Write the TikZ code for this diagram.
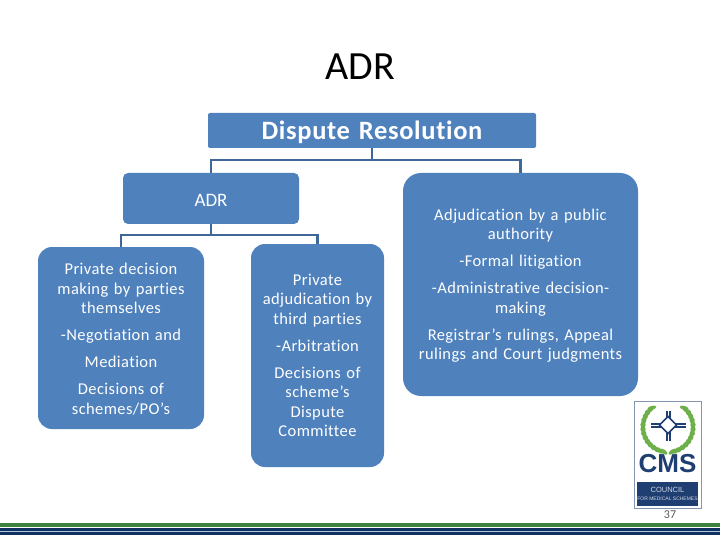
\documentclass[tikz,border=0pt]{standalone}
\usepackage{fontspec}
\setmainfont{Carlito}[Ligatures=NoCommon]
\newfontfamily\spaced{Carlito}[LetterSpace=2.5,Ligatures=NoCommon]
\newfontfamily\logofont{Liberation Sans}
\newcommand{\nudge}{\rule{0pt}{14pt}}
\definecolor{boxblue}{HTML}{4F81BD}
\definecolor{linkblue}{HTML}{3F6797}
\definecolor{navy}{HTML}{1F3F73}
\definecolor{leaf}{HTML}{6DB04A}
\definecolor{band}{HTML}{3F8240}
\definecolor{deep}{HTML}{10305F}
\tikzset{
  box/.style={fill=boxblue,text=white,align=center,inner sep=0pt,font=\spaced\fontsize{16.5}{19.5}\selectfont,text width=#1},
  box/.default=150pt,
  link/.style={draw=linkblue,line width=2.4pt}
}
\begin{document}
\begin{tikzpicture}[x=1pt,y=-1pt]
\useasboundingbox (0,0) rectangle (720,540);
\node[font=\fontsize{40}{44}\selectfont] (title) at (360,67) {ADR};
\node[box=320pt,minimum width=328pt,minimum height=35pt,rounded corners=2pt,font=\spaced\fontsize{26.5}{30}\selectfont\bfseries] (dr) at (372,130.5) {\rule{0pt}{23pt}Dispute Resolution};
\node[box=170pt,minimum width=176pt,minimum height=51pt,rounded corners=5pt,font=\fontsize{19}{22}\selectfont] (adr) at (211,198.5) {\rule{0pt}{16pt}ADR};
\node[box=230pt,minimum width=235pt,minimum height=223pt,rounded corners=18pt] (pub) at (520.5,284.5) {\nudge Adjudication by a public\\authority\\[7.5pt]-Formal litigation\\[7.5pt]-Administrative decision-\\making\\[7.5pt]Registrar’s rulings, Appeal\\rulings and Court judgments};
\node[box=160pt,minimum width=166pt,minimum height=182pt,rounded corners=14pt] (priv) at (121,338) {\nudge Private decision\\making by parties\\themselves\\[7.5pt]-Negotiation and\\[7.5pt]Mediation\\[7.5pt]Decisions of\\schemes/PO’s};
\node[box=130pt,minimum width=133pt,minimum height=223pt,rounded corners=14pt] (third) at (317.5,355.5) {Private\\adjudication by\\third parties\\[7.5pt]-Arbitration\\[7.5pt]Decisions of\\scheme’s\\Dispute\\Committee};
\draw[link] (dr.south) -- ++(0,12) coordinate (m1);
\draw[link] (adr.north) |- (m1) -| (pub.north);
\draw[link] (adr.south) -- ++(0,11) coordinate (m2);
\draw[link] (priv.north) |- (m2) -| (third.north);
% logo
\node[draw=navy!55,fill=white,line width=1pt,minimum width=67pt,minimum height=107pt,inner sep=0pt] (logo) at (667.5,454.5) {};
\foreach \a in {130,140,...,260}{
  \fill[leaf,rotate around={\a+65:({668+25*cos(\a)},{427-25*sin(\a)})}] ({668+25*cos(\a)},{427-25*sin(\a)}) ellipse (4.5pt and 2pt);
  \fill[leaf,rotate around={-\a-65:({668-25*cos(\a)},{427-25*sin(\a)})}] ({668-25*cos(\a)},{427-25*sin(\a)}) ellipse (4.5pt and 2pt);
}
\draw[navy,line width=5pt] (668,411) -- (668,441) (651,425) -- (686,425);
\draw[white,line width=.7pt] (668,411) -- (668,441) (651,425) -- (686,425);
\draw[navy,fill=white,line width=1.6pt] (668,416.5) -- (676.5,425) -- (668,433.5) -- (659.5,425) -- cycle;
\node[text=navy,font=\logofont\fontsize{26}{28}\selectfont\bfseries,inner sep=0pt] (cms) at (667.5,464) {CMS};
\node[fill=navy,minimum width=61pt,minimum height=24pt,inner sep=0pt,text=white!80!navy,align=center,font=\logofont\fontsize{7.5}{8}\selectfont] (council) at (667.5,494) {COUNCIL\\[-.5pt]{\fontsize{5}{6}\selectfont FOR MEDICAL SCHEMES}};
\node[text=black!65,font=\fontsize{12}{13}\selectfont] (pg) at (670,515) {37};
% footer bands
\fill[band] (0,523) rectangle (720,526.5);
\fill[deep] (0,528) rectangle (720,530.5);
\fill[boxblue!45] (0,530.5) rectangle (720,532);
\fill[deep] (0,532) rectangle (720,534.5);
\end{tikzpicture}
\end{document}
